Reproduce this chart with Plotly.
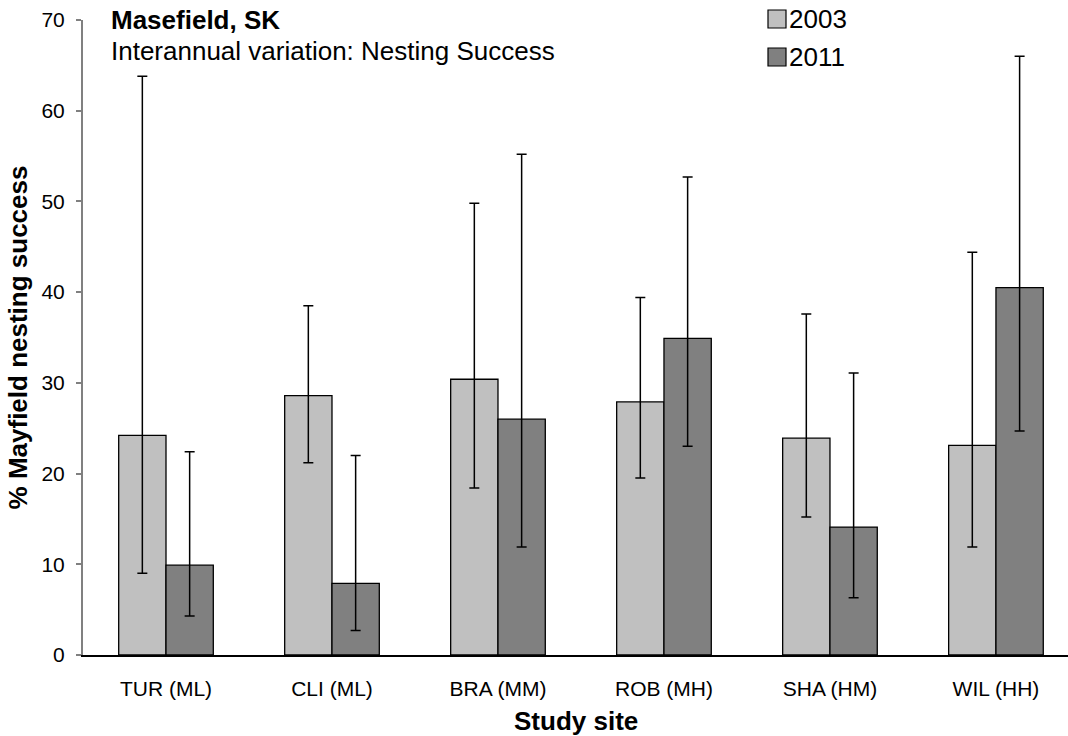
import plotly.graph_objects as go

# Study sites and Mayfield nesting success (%) with 95% CI bounds
sites = ["TUR (ML)", "CLI (ML)", "BRA (MM)", "ROB (MH)", "SHA (HM)", "WIL (HH)"]

success_2003 = [24.2, 28.6, 30.4, 27.9, 23.9, 23.1]
upper_2003 = [63.8, 38.5, 49.8, 39.4, 37.6, 44.4]
lower_2003 = [9.0, 21.2, 18.4, 19.5, 15.2, 11.9]

success_2011 = [9.9, 7.9, 26.0, 34.9, 14.1, 40.5]
upper_2011 = [22.4, 22.0, 55.2, 52.7, 31.1, 66.0]
lower_2011 = [4.3, 2.7, 11.9, 23.0, 6.3, 24.7]

W, H = 1068, 736
ML, MR, MT, MB = 83, 0, 20, 81
FONT = "Arial, Liberation Sans, sans-serif"


def px_x(px):
    return (px - ML) / (W - ML - MR)


def px_y(py):
    return (H - MB - py) / (H - MT - MB)


def bar_trace(name, vals, hi, lo, color):
    return go.Bar(
        name=name,
        x=sites,
        y=vals,
        marker=dict(color=color, line=dict(color="black", width=1.3)),
        error_y=dict(
            type="data",
            symmetric=False,
            array=[h - v for h, v in zip(hi, vals)],
            arrayminus=[v - l for v, l in zip(vals, lo)],
            color="black",
            thickness=1.5,
            width=5,
        ),
        showlegend=False,
    )


fig = go.Figure()
fig.add_trace(bar_trace("2003", success_2003, upper_2003, lower_2003, "#C0C0C0"))
fig.add_trace(bar_trace("2011", success_2011, upper_2011, lower_2011, "#808080"))

fig.update_layout(
    width=W,
    height=H,
    margin=dict(l=ML, r=MR, t=MT, b=MB),
    paper_bgcolor="white",
    plot_bgcolor="white",
    barmode="group",
    bargap=0.43,
    bargroupgap=0,
    font=dict(family=FONT, color="black"),
)

fig.update_xaxes(
    range=[-0.5, 5.434],
    showline=True,
    linecolor="black",
    linewidth=1.5,
    ticks="",
    showgrid=False,
    tickfont=dict(size=21),
    ticklabelstandoff=14,
)

fig.update_yaxes(
    range=[0, 70],
    dtick=10,
    showline=True,
    linecolor="#808080",
    linewidth=2,
    ticks="outside",
    ticklen=5,
    tickcolor="#808080",
    tickwidth=1.5,
    showgrid=False,
    zeroline=False,
    tickfont=dict(size=21),
    ticklabelstandoff=7,
    title=dict(text="<b>% Mayfield nesting success</b>", font=dict(size=26), standoff=6),
)

# x-axis title, centred under the plot area
fig.add_annotation(x=0.5, y=px_y(721), xref="paper", yref="paper",
                   text="<b>Study site</b>", showarrow=False,
                   xanchor="center", yanchor="middle", font=dict(size=26))

# Chart heading
fig.add_annotation(x=px_x(109), y=px_y(20), xref="paper", yref="paper",
                   text="<b>Masefield, SK</b>", showarrow=False,
                   xanchor="left", yanchor="middle", font=dict(size=26))
fig.add_annotation(x=px_x(109), y=px_y(51), xref="paper", yref="paper",
                   text="Interannual variation: Nesting Success", showarrow=False,
                   xanchor="left", yanchor="middle", font=dict(size=26))

# Legend swatches and labels
for label, color, cy in [("2003", "#C0C0C0", 19), ("2011", "#808080", 57)]:
    fig.add_shape(type="rect", xref="paper", yref="paper",
                  x0=px_x(768), x1=px_x(786), y0=px_y(cy + 9), y1=px_y(cy - 9),
                  fillcolor=color, line=dict(color="black", width=1.2))
    fig.add_annotation(x=px_x(787), y=px_y(cy), xref="paper", yref="paper",
                       text=label, showarrow=False, xanchor="left", yanchor="middle",
                       font=dict(size=26))

fig.write_html("out.html")
